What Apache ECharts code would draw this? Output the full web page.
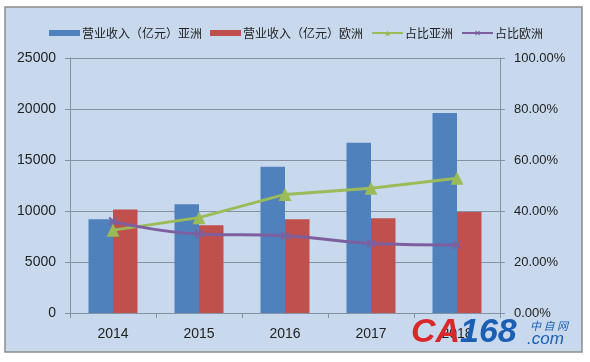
<!DOCTYPE html>
<html><head><meta charset="utf-8">
<script src="https://cdn.jsdelivr.net/npm/echarts@6/dist/echarts.min.js"></script>
<style>html,body{margin:0;padding:0;background:#fff}#c{width:590px;height:362px}</style>
</head><body><div id="c"></div>
<script>
var categories = ['2014', '2015', '2016', '2017', '2018'];
var seriesNames = ['营业收入（亿元）亚洲', '营业收入（亿元）欧洲', '占比亚洲', '占比欧洲'];
var revenueAsia = [9200, 10650, 14350, 16700, 19600];
var revenueEurope = [10150, 8600, 9200, 9300, 9900];
var shareAsia = [0.325, 0.374, 0.465, 0.489, 0.528];
var shareEurope = [0.36, 0.31, 0.303, 0.273, 0.267];
var leftTicks = [0, 5000, 10000, 15000, 20000, 25000];
var rightTicks = [0, 0.2, 0.4, 0.6, 0.8, 1.0];

var chart = echarts.init(document.getElementById('c'), null, {renderer: 'canvas'});
var numFont = 'Liberation Sans';
var cjk = '"Noto Sans CJK SC", "Liberation Sans"';
var xPath = 'path://M0,1.5L1.5,0L10,8.5L8.5,10Z M8.5,0L10,1.5L1.5,10L0,8.5Z';
chart.setOption({
  backgroundColor: '#ffffff',
  animation: false,
  graphic: [
    {type: 'rect', z: -10, silent: true, shape: {x: 5, y: 7, width: 577, height: 345},
     style: {fill: '#c9d9ed', stroke: '#8c8c8c', lineWidth: 1.5}},
    {type: 'text', z: 100, left: 411, top: 316, style: {text: 'CA', fill: '#d8282a', font: 'italic bold 34px "Liberation Sans"'}},
    {type: 'text', z: 100, left: 460, top: 316, style: {text: '168', fill: '#1a5fb4', font: 'italic bold 34px "Liberation Sans"'}},
    {type: 'text', z: 100, left: 530, top: 320, style: {text: '中 自 网', fill: '#1a5fb4', font: 'italic 11px "Noto Sans CJK SC"'}},
    {type: 'text', z: 100, left: 527, top: 331, style: {text: '.com', fill: '#1a5fb4', font: 'italic 17px "Liberation Sans"'}}
  ],
  legend: {
    left: 44, top: 22, itemGap: 8, itemWidth: 31, itemHeight: 6,
    textStyle: {fontFamily: cjk, fontSize: 12, color: '#222', padding: [0, 0, 0, -3]},
    data: [
      {name: seriesNames[0], icon: 'rect'},
      {name: seriesNames[1], icon: 'rect'},
      {name: seriesNames[2]},
      {name: seriesNames[3]}
    ]
  },
  grid: {left: 70, right: 90, top: 58, bottom: 49},
  xAxis: {
    type: 'category', data: categories, boundaryGap: true,
    axisLine: {lineStyle: {color: '#8592a3', width: 1}},
    axisTick: {show: true, length: 5, lineStyle: {color: '#8592a3'}},
    axisLabel: {fontFamily: numFont, fontSize: 14, color: '#222', margin: 14}
  },
  yAxis: [
    {type: 'value', min: leftTicks[0], max: leftTicks[leftTicks.length - 1], interval: 5000, position: 'left',
     axisLine: {show: true, lineStyle: {color: '#8592a3'}},
     axisTick: {show: true, length: 5, lineStyle: {color: '#8592a3'}},
     splitLine: {show: true, lineStyle: {color: '#8592a3', width: 1}},
     axisLabel: {fontFamily: numFont, fontSize: 14, color: '#222', margin: 14,
       formatter: function (v) { return String(v); }}},
    {type: 'value', min: rightTicks[0], max: rightTicks[rightTicks.length - 1], interval: 0.2, position: 'right',
     axisLine: {show: true, lineStyle: {color: '#8592a3'}},
     axisTick: {show: true, length: 5, lineStyle: {color: '#8592a3'}},
     splitLine: {show: false},
     axisLabel: {fontFamily: numFont, fontSize: 13, color: '#222', margin: 14,
       formatter: function (v) { return (v * 100).toFixed(2) + '%'; }}}
  ],
  series: [
    {name: seriesNames[0], type: 'bar', data: revenueAsia, barWidth: 24.5, barGap: '0%',
     itemStyle: {color: '#4f81bd'}},
    {name: seriesNames[1], type: 'bar', data: revenueEurope, barWidth: 24.5, barGap: '0%',
     itemStyle: {color: '#c0504d'}},
    {name: seriesNames[2], type: 'line', yAxisIndex: 1, data: shareAsia,
     symbol: 'triangle', symbolSize: 13, lineStyle: {color: '#9bbb59', width: 3},
     itemStyle: {color: '#9bbb59'}},
    {name: seriesNames[3], type: 'line', yAxisIndex: 1, data: shareEurope, smooth: true,
     symbol: xPath, symbolSize: 9, lineStyle: {color: '#7d5fa0', width: 3},
     itemStyle: {color: '#7d5fa0'}}
  ]
});
</script></body></html>
